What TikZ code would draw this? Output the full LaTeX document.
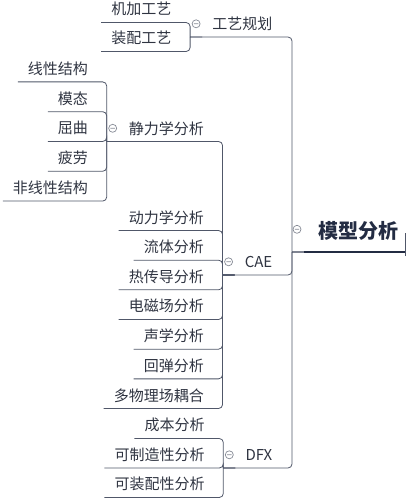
\documentclass[tikz,border=0pt]{standalone}
\usepackage{fontspec}
\setmainfont{Noto Sans CJK SC}
\definecolor{linec}{HTML}{505769}
\definecolor{textc}{HTML}{2F3441}
\definecolor{rootc}{HTML}{232C43}
\definecolor{knobc}{HTML}{858A95}

\begin{document}
\begin{tikzpicture}[x=1pt,y=-1pt]
    \tikzstyle{topic}=[font=\fontsize{15}{18}\selectfont,text=textc,
      inner xsep=10pt,inner ysep=0pt,minimum height=26pt,anchor=south east]
    \tikzstyle{root}=[font=\fontsize{20}{24}\selectfont\bfseries,text=rootc,
      inner xsep=14pt,inner ysep=0pt,minimum height=42pt,anchor=south west]
    \tikzstyle{link}=[draw=linec,line width=0.8pt,rounded corners=4pt]
    \tikzstyle{knob}=[draw=knobc,line width=0.7pt]

    \useasboundingbox (0,0) rectangle (409,501);

    \node[root] (mxfx) at (304,252) {模型分析};

    \node[topic] (gygh) at (mxfx.south west) [xshift=-21.5pt,yshift=215pt] {工艺规划};
    \node[topic] (cae)  at (mxfx.south west) [xshift=-21.5pt,yshift=-23pt] {CAE};
    \node[topic] (dfx)  at (mxfx.south west) [xshift=-21.5pt,yshift=-216pt] {DFX};

    \foreach \n/\t [count=\i] in {jjgy/机加工艺,zpgy/装配工艺}
        \node[topic] (\n) at (gygh.south west) [xshift=-20.5pt,yshift={(1.5-\i)*29pt}] {\t};

    \foreach \n/\t/\s in {jlxfx/静力学分析/1,dlxfx/动力学分析/4,ltfx/流体分析/5,
        rcdfx/热传导分析/6,dcfx/电磁场分析/7,sxfx/声学分析/8,htfx/回弹分析/9,dwlch/多物理场耦合/10}
        \node[topic] (\n) at (cae.south west) [xshift=-20.5pt,yshift={(5.5-\s)*29.67pt}] {\t};

    \foreach \n/\t [count=\i] in {xxjg/线性结构,mt/模态,qq/屈曲,pl/疲劳,fxxjg/非线性结构}
        \node[topic] (\n) at (jlxfx.south west) [xshift=-20.5pt,yshift={(3-\i)*29.8pt}] {\t};

    \foreach \n/\t [count=\i] in {cbfx/成本分析,kzzx/可制造性分析,kzpx/可装配性分析}
        \node[topic] (\n) at (dfx.south west) [xshift=-20.5pt,yshift={(2-\i)*29.5pt}] {\t};

    % connectors: stub left of the parent, then down/up to the child's underline
    \foreach \p/\cs in {mxfx/{gygh,cae,dfx},gygh/{jjgy,zpgy},
        cae/{jlxfx,dlxfx,ltfx,rcdfx,dcfx,sxfx,htfx,dwlch},
        jlxfx/{xxjg,mt,qq,pl,fxxjg},dfx/{cbfx,kzzx,kzpx}}
        \foreach \c in \cs
            \draw[link] (\p.south west) -- ([xshift=-12pt]\p.south west)
                ([xshift=-12pt]\p.south west) |- (\c.south west);

    % underline of the main topic
    \draw[rootc,line width=2.6pt] (mxfx.south west) -- ([xshift=-7pt]mxfx.south east);
    \draw[linec,line width=0.8pt] ([xshift=-7pt,yshift=-4pt]mxfx.south east) -- ++(0,-23);

    % collapse knobs
    \draw[knob] ([xshift=-7pt,yshift=1.5pt]mxfx.west) circle (4pt) ++(-2.2,0) -- ++(4.4,0);
    \foreach \n in {gygh,cae,jlxfx,dfx}
        \draw[knob] ([xshift=-6pt]\n.west) circle (4pt) ++(-2.2,0) -- ++(4.4,0);
\end{tikzpicture}
\end{document}
